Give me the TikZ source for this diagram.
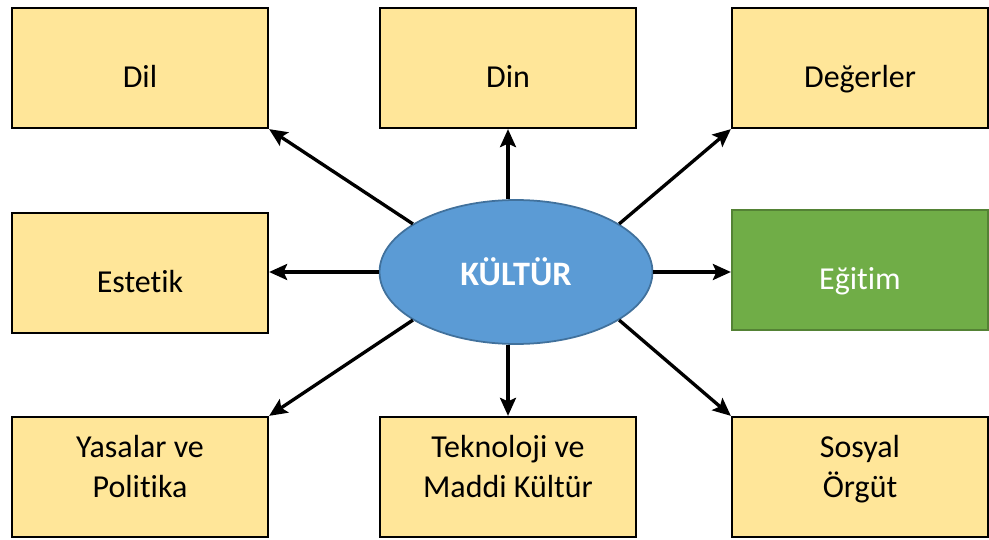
\documentclass[tikz,border=0pt]{standalone}
\usepackage{fontspec}
\setmainfont{Carlito}[Ligatures={NoCommon,NoRare}]
\usetikzlibrary{shapes.geometric,arrows.meta}
\definecolor{sari}{HTML}{FFE699}
\definecolor{yesil}{HTML}{70AD47}
\definecolor{yesilkenar}{HTML}{548235}
\definecolor{mavi}{HTML}{5B9BD5}
\definecolor{mavikenar}{HTML}{41719C}
\newcommand{\kutu}[4]{\node[kutu, #4] (#1) at (#2) {#3};}
\newcommand{\ok}[2]{\draw[-{Stealth[length=3.6mm,width=3.2mm,inset=0.7mm]}, line width=1.9pt] (#1)--(#2);}

\begin{document}
\begin{tikzpicture}[x=0.02cm, y=-0.02cm,
  kutu/.style={rectangle, draw=black, line width=1.3pt, fill=sari,
    minimum width=5.12cm, minimum height=2.4cm, align=center,
    font=\fontsize{18.2}{22.7}\selectfont},
  tek/.style={text height=0.8cm, text depth=0cm},
  cift/.style={text depth=0.42cm}]
  \useasboundingbox (0,0) rectangle (989,540);

  % Boxes
  % -----
  \kutu{dil}{140,68}{Dil}{tek};
  \kutu{din}{508,68}{Din}{tek};
  \kutu{degerler}{860,68}{De\u{g}erler}{tek};
  \kutu{estetik}{140,273}{Estetik}{tek};
  \kutu{egitim}{860,270}{E\u{g}itim}{tek, fill=yesil, draw=yesilkenar, text=white};
  \kutu{yasalar}{140,477}{Yasalar ve\\Politika}{cift};
  \kutu{teknoloji}{508,477}{Teknoloji ve\\Maddi K\"ult\"ur}{cift};
  \kutu{sosyal}{860,477}{Sosyal\\\"Org\"ut}{cift};

  % Center
  % ------
  \node[ellipse, fill=mavi, draw=mavikenar, line width=1pt,
    minimum width=5.46cm, minimum height=2.88cm, text=white,
    font=\fontsize{19.5}{23}\selectfont\bfseries] (kultur) at (516,272) {K\"ULT\"UR};

  % Arrows
  % ------
  \ok{kultur.155}{dil.south east};
  \ok{kultur.north -| din.south}{din.south};
  \ok{kultur.25}{degerler.south west};
  \ok{kultur.west}{kultur.west -| estetik.east};
  \ok{kultur.east}{kultur.east -| egitim.west};
  \ok{kultur.205}{yasalar.north east};
  \ok{kultur.south -| teknoloji.north}{teknoloji.north};
  \ok{kultur.335}{sosyal.north west};

\end{tikzpicture}
\end{document}
